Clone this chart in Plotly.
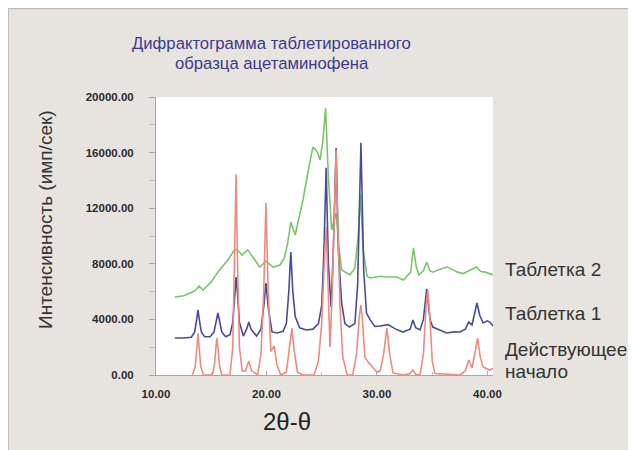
import plotly.graph_objects as go

# ---------------- data ----------------
tab2_x = [11.7, 12.5, 13.3, 13.6, 13.9, 14.25, 15.0, 15.6, 16.5, 16.9, 17.15, 17.5, 17.8, 18.3,
          18.8, 19.4, 19.95, 20.6, 21.2, 21.6, 21.9, 22.2, 22.6, 23.3, 23.8, 24.2, 24.6, 24.85,
          25.1, 25.35, 25.6, 25.9, 26.3, 26.55, 26.8, 27.55, 28.0, 28.3, 28.5, 28.75, 29.1,
          29.4, 30.3, 30.9, 31.8, 32.4, 33.05, 33.3, 33.55, 33.8, 34.2, 34.5, 34.8, 35.05,
          35.7, 36.3, 36.8, 37.3, 37.8, 38.4, 39.0, 39.4, 39.8, 40.5]
tab2_y = [5600, 5700, 5970, 6100, 6400, 6100, 6700, 7400, 8270, 8800, 9060, 8900, 8630, 9000,
          8400, 7770, 8200, 7770, 7900, 8400, 9400, 11000, 10070, 12590, 14800, 16400, 16040, 15470,
          16800, 19200, 14240, 10430, 11650, 9200, 7550, 7200, 7700, 10000, 13000, 9000, 7100,
          6980, 7100, 7050, 7050, 6830, 7400, 9140, 7800, 7200, 7500, 8130, 7500, 7400,
          7600, 7770, 7600, 7400, 7300, 7550, 7770, 7450, 7400, 7200]

tab1_x = [11.7, 12.5, 13.2, 13.5, 13.68, 13.8, 13.92, 14.1, 14.4, 14.9, 15.25, 15.45, 15.6, 15.75,
          15.95, 16.3, 16.7, 16.95, 17.12, 17.25, 17.38, 17.55, 17.9, 18.2, 18.4, 18.6, 19.1,
          19.5, 19.75, 19.95, 20.15, 20.5, 20.95, 21.5, 21.8, 22.02, 22.2, 22.38, 22.6, 23.0,
          23.6, 24.2, 24.7, 25.0, 25.2, 25.4, 25.6, 25.85, 26.05, 26.3, 26.5, 26.8, 27.1, 27.5,
          28.0, 28.25, 28.55, 28.8, 29.05, 29.4, 29.8, 30.3, 31.0, 31.7, 32.35, 33.0, 33.25,
          33.5, 33.9, 34.2, 34.5, 34.8, 35.05, 35.7, 36.3, 37.0, 37.5, 38.0, 38.3, 38.6, 38.85,
          39.05, 39.3, 39.6, 40.0, 40.2, 40.6]
tab1_y = [2660, 2660, 2720, 3100, 4000, 4680, 4000, 3100, 2750, 2760, 3100, 3900, 4460, 3900,
          3100, 2750, 2900, 3800, 5800, 7050, 5800, 3800, 2800, 3300, 3810, 3300, 2800,
          3300, 4900, 6620, 4900, 3100, 3020, 3150, 3700, 6000, 8850, 6000, 4200, 3400,
          3240, 3300, 3700, 5000, 9000, 14900, 8000, 4900, 9000, 16330, 9000, 5180, 3700, 3450,
          3700, 6500, 16700, 7500, 4460, 3950, 3500, 3520, 3620, 3300, 3090, 3300, 3950,
          3400, 3240, 4000, 6190, 4000, 3450, 3200, 3020, 3100, 3090, 3300, 3810, 3600, 4400,
          5180, 4300, 3740, 3900, 3810, 3450]

api_x = [13.3, 13.55, 13.7, 13.8, 13.9, 14.05, 14.3, 15.1, 15.3, 15.42, 15.5, 15.6, 15.75, 15.95,
         16.7, 16.95, 17.12, 17.25, 17.38, 17.55, 17.8, 18.1, 18.4, 18.65, 19.2, 19.5, 19.75,
         19.95, 20.15, 20.4, 20.7, 20.95, 21.3, 21.8, 22.05, 22.3, 22.5, 22.8, 23.3, 24.3, 24.7,
         25.0, 25.2, 25.4, 25.55, 25.75, 25.95, 26.15, 26.3, 26.45, 26.65, 26.9, 27.3, 27.8,
         28.15, 28.4, 28.55, 28.7, 28.9, 29.2, 29.7, 30.0, 30.3, 30.6, 30.9, 31.15, 31.45, 32.4,
         33.0, 33.25, 33.5, 33.9, 34.2, 34.45, 34.6, 34.8, 35.0, 35.25, 37.5, 38.0, 38.3, 38.6,
         38.85, 39.1, 39.35, 39.6, 40.2, 40.6]
api_y = [0, 600, 2000, 3000, 2000, 600, 0, 0, 800, 2000, 2650, 2000, 700, 0,
         0, 2000, 8000, 14450, 8000, 2000, 300, 300, 1000, 300, 0, 1500, 6000,
         12400, 6000, 1700, 2100, 700, 0, 200, 1800, 3350, 1800, 200, 0, 0, 1000,
         3740, 7500, 10650, 7000, 2000, 6000, 12000, 16190, 11000, 5000, 1300, 0, 0,
         1500, 4200, 5040, 3800, 1300, 930, 500, 200, 300, 1500, 3380, 1500, 150, 0,
         100, 360, 50, 0, 1500, 5000, 6110, 4000, 1000, 100, 0, 300, 1080, 500,
         1500, 2660, 1300, 580, 360, 500]

label_lines = ["Таблетка 2", "Таблетка 1", "Действующее", "начало"]
y_tick_vals = [0, 4000, 8000, 12000, 16000, 20000]
x_tick_vals = [10, 20, 30, 40]
title_lines = ["Дифрактограмма таблетированного", "образца ацетаминофена"]
y_title = "Интенсивность (имп/сек)"
x_title = "2θ-θ"

# ---------------- styling ----------------
FONT = "Liberation Sans, Arial, Helvetica, sans-serif"
PANEL = "#e7e4e0"
colors = ["#7cc46c", "#474c9c", "#ee8b7e"]

fig = go.Figure()
for xs, ys, c in [(tab2_x, tab2_y, colors[0]), (tab1_x, tab1_y, colors[1]), (api_x, api_y, colors[2])]:
    fig.add_trace(go.Scatter(x=xs, y=ys, mode="lines", line=dict(color=c, width=1.6),
                             showlegend=False, hoverinfo="skip"))

# page body has an 8px margin, so the figure is 628x442 placed at (8,8)
fig.update_layout(
    width=628, height=442,
    margin=dict(l=148, r=143, t=89, b=75),
    paper_bgcolor=PANEL, plot_bgcolor="white",
    font=dict(family=FONT, color="#333"),
    showlegend=False,
)
fig.update_xaxes(range=[10, 40.5], tickvals=x_tick_vals, tickformat=".2f",
                 showline=True, linecolor="#a9a7a4", linewidth=1, showgrid=False, zeroline=False,
                 ticks="inside", ticklen=4, tickcolor="#a9a7a4",
                 minor=dict(dtick=5, tick0=10, ticks="inside", ticklen=3, tickcolor="#bbb"),
                 tickfont=dict(size=11.5, color="#2a2a2a", family=FONT, weight="bold"),
                 ticklabelstandoff=8)
fig.update_yaxes(range=[0, 20000], tickvals=y_tick_vals, tickformat=".2f",
                 showline=True, linecolor="#a9a7a4", linewidth=1, showgrid=False, zeroline=False,
                 ticks="outside", ticklen=6, tickcolor="#a9a7a4",
                 minor=dict(dtick=2000, tick0=0, ticks="outside", ticklen=6, tickcolor="#c2c0bd"),
                 tickfont=dict(size=11.5, color="#2a2a2a", family=FONT, weight="bold"),
                 ticklabelstandoff=13)

# panel border (top and left)
fig.add_shape(type="line", xref="paper", yref="paper", x0=-0.44, x1=1.5, y0=1.319, y1=1.319,
              line=dict(color="#bdbab6", width=2), layer="above")
fig.add_shape(type="line", xref="paper", yref="paper", x0=-0.4395, x1=-0.4395, y0=-0.3, y1=1.32,
              line=dict(color="#bdbab6", width=2), layer="above")

# title (two lines)
for txt, ty in zip(title_lines, [1.194, 1.122]):
    fig.add_annotation(text=txt, xref="paper", yref="paper", x=0.344, y=ty,
                       showarrow=False, xanchor="center", yanchor="middle",
                       font=dict(size=16.7, color="#3c3a8e", family=FONT))
# axis titles
fig.add_annotation(text=y_title, xref="paper", yref="paper", x=-0.326, y=0.558,
                   showarrow=False, textangle=-90, xanchor="center", yanchor="middle",
                   font=dict(size=19, color="#333", family=FONT))
fig.add_annotation(text=x_title, xref="paper", yref="paper", x=0.389, y=-0.169,
                   showarrow=False, xanchor="center", yanchor="middle",
                   font=dict(size=24, color="#222", family=FONT))
# series labels
label_y = [0.378, 0.223, 0.09, 0.011]
for name, ly in zip(label_lines, label_y):
    fig.add_annotation(text=name, xref="paper", yref="paper", x=1.0297, y=ly,
                       showarrow=False, xanchor="left", yanchor="middle", align="left",
                       font=dict(size=19, color="#333", family=FONT))

fig.write_html("out.html", config={"displayModeBar": False})
